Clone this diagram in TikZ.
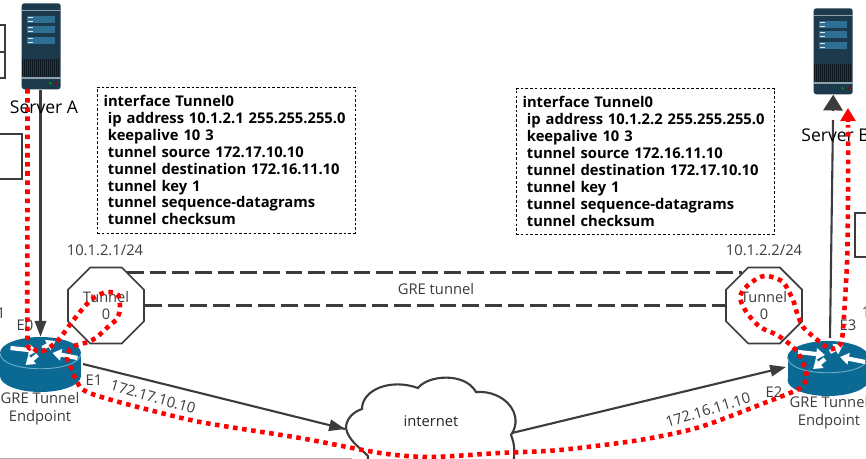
\documentclass[tikz,border=0pt]{standalone}
\usepackage{fontspec}
\setmainfont{Open Sans}
\usetikzlibrary{arrows.meta,shapes.geometric}
\definecolor{linegray}{HTML}{3C3C3C}
\definecolor{routerblue}{HTML}{0B6A94}
\definecolor{routerlite}{HTML}{6FAECB}
\definecolor{serverdark}{HTML}{1D3A4D}
\definecolor{serverband}{HTML}{8FA3AE}
\definecolor{serverstrip}{HTML}{2E6F93}
\tikzset{
  lbl/.style={text=linegray,font=\fontsize{8.4}{10.2}\selectfont,inner sep=0pt},
  srvlbl/.style={text=black,font=\fontsize{10}{12}\selectfont,inner sep=0pt},
  cfgbox/.style={draw=black,thin,dashed,dash pattern=on 1.5pt off 1.2pt,align=left,text=black,
    font=\fontsize{8.4}{9.65}\selectfont\bfseries,minimum width=5.16cm,minimum height=2.92cm,inner sep=0pt,text width=4.9cm},
  tunnelnode/.style={draw=linegray,line width=1pt,regular polygon,regular polygon sides=8,minimum size=1.646cm,
    inner sep=0pt,align=center,text=linegray,font=\fontsize{8.3}{9.2}\selectfont},
  link/.style={draw=linegray,line width=1.2pt},
  arrowlink/.style={link,-{Triangle[length=9pt,width=6.5pt]}},
  gre/.style={link,dash pattern=on 9.5pt off 3.4pt},
  reddot/.style={draw=red,line width=2.6pt,dash pattern=on 2.6pt off 2.6pt},
  redtip/.style={draw=red,line width=2.6pt,-{Triangle[length=7.5pt,width=8.5pt]}},
  routerbox/.style={minimum width=1.62cm,minimum height=1.1cm,inner sep=0pt},
  serverbox/.style={minimum width=0.78cm,minimum height=1.72cm,inner sep=0pt},
  pics/router/.style={code={
    \fill[routerblue] (0,11.5) ellipse [x radius=40.5,y radius=16];
    \fill[routerblue] (-40.5,-11.5) rectangle (40.5,11.5);
    \fill[routerblue] (0,-11.5) ellipse [x radius=40.5,y radius=16];
    \draw[routerlite,line width=0.5pt] (-40.5,-11.5) .. controls (-40.5,9.5) and (40.5,9.5) .. (40.5,-11.5);
    \foreach \ax/\ay/\bx/\by in {-30/-16.5/-3/-13.5, 2/-16.5/15/-23.5, 37/-6.5/12/-11.5, -3/-9.5/-15/0.5}
      \draw[white,line width=2.4pt,-{Triangle[length=5pt,width=6.5pt]}] (\ax,\ay) -- (\bx,\by);
  }},
  pics/server/.style={code={
    \fill[serverdark,rounded corners=1.5pt] (-19.5,-43) rectangle (19.5,43);
    \draw[serverband,line width=0.7pt] (-19.5,-36) -- (19.5,-36);
    \foreach \sy in {-30.3,-20.3,-9.3}
      \fill[serverstrip] (-14.2,\sy) rectangle (13.8,\sy+7);
    \foreach \sy in {-28.5,-25,-18.5,-15,-7.5,-4}
      \draw[white!85!serverstrip,line width=0.6pt] (-13,\sy) -- (-8,\sy);
    \fill[black!60!serverdark] (-18.8,12.7) rectangle (18.8,30.7);
    \foreach \gx in {-18,-16,...,18}
      \draw[serverdark,line width=0.3pt] (\gx,12.7) -- (\gx,30.7);
    \draw[serverband,line width=0.7pt] (-19.5,31.7) -- (19.5,31.7);
    \fill[green!60!black] (9.3,37) circle (1.4);
    \fill[red!60!black] (15,37) circle (1.4);
  }}
}
\begin{document}
\begin{tikzpicture}[x=0.02cm,y=-0.02cm]
\clip (0,0) rectangle (866,459);
\fill[white] (0,0) rectangle (866,459);
% bordi tagliati
\draw[link] (-5,25) rectangle (5,78); \draw[link] (-5,52) -- (5,52);
\draw[link] (-5,134) rectangle (22,179);
\draw[link] (870,213) -- (855,213) -- (855,257) -- (870,257);
\draw[draw=black!30] (0,458) -- (352,458);
% server e router
\node[serverbox] (serverA) at (41.2,46.3) {}; \pic at (serverA) {server};
\node[serverbox] (serverB) at (833.2,51.3) {}; \pic at (serverB) {server};
\node[routerbox] (routerA) at (40.5,364.5) {}; \pic at (routerA) {router};
\node[routerbox] (routerB) at (828,368.5) {}; \pic at (routerB) {router};
% tunnel
\node[tunnelnode] (tunnelA) at (106,305.5) {Tunnel\\0};
\node[tunnelnode] (tunnelB) at (764,305.5) {Tunnel\\0};
\coordinate (greA) at (127,272.5); \coordinate (greB) at (742,272.5);
\draw[gre,line width=1.5pt] (greA) -- (greB);
\draw[gre] (tunnelA.east) -- (tunnelB.west);
\node[lbl] (greLbl) at (436,289) {GRE tunnel};
\node[lbl] (ipA) at (105,250) {10.1.2.1/24};
\node[lbl] (ipB) at (764,250) {10.1.2.2/24};
% nuvola
\draw[link,fill=white] (368,465) -- (368,456) .. controls (360,448) and (348,440) .. (346,428)
  .. controls (346,419) and (353,412) .. (362,409) .. controls (362,390) and (390,378) .. (418,388)
  .. controls (428,375) and (465,372) .. (476,392) .. controls (505,390) and (525,415) .. (511,435)
  .. controls (515,445) and (515,452) .. (513,465);
\node[lbl,text=black!85] (cloud) at (431,421) {internet};
\coordinate (cloudW) at (345,429); \coordinate (cloudE) at (512,433);
% collegamenti
\draw[arrowlink] (routerA.north |- serverA.south) -- (routerA.north);
\coordinate (lineB) at (833,120); \coordinate (lineBb) at (830,338); \coordinate (tipB) at (833,111);
\draw[link] (lineBb) -- (lineB);
\draw[link,-{Triangle[length=9pt,width=11pt]}] (tipB) -- (serverB.south);
\draw[link] (83,364) -- (cloudW);
\draw[arrowlink] (cloudW) ++(-9,-2.2) -- (cloudW);
\draw[arrowlink] (cloudE) -- (786,367);
% etichette
\node[srvlbl] (srvA) at (44,107) {Server A};
\node[srvlbl,anchor=west] (srvB) at (801,135) {Server B};
\node[lbl] (e0) at (25,325) {E0};
\node[lbl] (e1) at (94,380) {E1};
\node[lbl] (e2) at (774,392) {E2};
\node[lbl] (e3) at (848,325) {E3};
\node[lbl] (clipL) at (1,313) {1};
\node[lbl] (clipR) at (866,312) {1};
\node[lbl,rotate=-16] (addrA) at (153,397) {172.17.10.10};
\node[lbl,rotate=17] (addrB) at (708,410) {172.16.11.10};
\node[lbl,align=center] (endA) at (40,408.5) {GRE Tunnel\\Endpoint};
\node[lbl,align=center] (endB) at (829,412.5) {GRE Tunnel\\Endpoint};
% configurazioni
\node[cfgbox] (cfgA) at (226,160) {interface Tunnel0\\
  \hspace*{2.5pt}ip address 10.1.2.1 255.255.255.0\\ \hspace*{2.5pt}keepalive 10 3\\
  \hspace*{2.5pt}tunnel source 172.17.10.10\\ \hspace*{2.5pt}tunnel destination 172.16.11.10\\
  \hspace*{2.5pt}tunnel key 1\\ \hspace*{2.5pt}tunnel sequence-datagrams\\ \hspace*{2.5pt}tunnel checksum};
\node[cfgbox] (cfgB) at (645,161.5) {interface Tunnel0\\
  \hspace*{2.5pt}ip address 10.1.2.2 255.255.255.0\\ \hspace*{2.5pt}keepalive 10 3\\
  \hspace*{2.5pt}tunnel source 172.16.11.10\\ \hspace*{2.5pt}tunnel destination 172.17.10.10\\
  \hspace*{2.5pt}tunnel key 1\\ \hspace*{2.5pt}tunnel sequence-datagrams\\ \hspace*{2.5pt}tunnel checksum};
% percorso rosso
\draw[reddot] plot[smooth,tension=0.45] coordinates {(27.5,89) (27.5,200) (27.5,337) (32,347) (40,352)
  (50,347) (60,338) (72,322) (85,306) (95,297) (107,292) (118,295) (120,310) (116,320) (110,325) (97,337) (88,342)
  (72,347) (67,358) (72,370) (76,380) (82,389) (95,395) (130,405) (200,422) (300,438) (380,453) (430,457)
  (500,453) (560,450) (640,440) (700,427) (767,402) (797,390) (803,385) (807,377) (802,360) (793,347)
  (777,335) (760,327) (747,313) (740,298) (745,288) (758,278) (768,276) (783,282) (793,300) (797,313)
  (803,327) (815,338) (830,349) (840,345) (843,330) (847,263) (848,200) (848,125)};
\coordinate (redS) at (848,122); \coordinate (redT) at (848,108);
\draw[redtip] (redS) -- (redT);
\end{tikzpicture}
\end{document}
